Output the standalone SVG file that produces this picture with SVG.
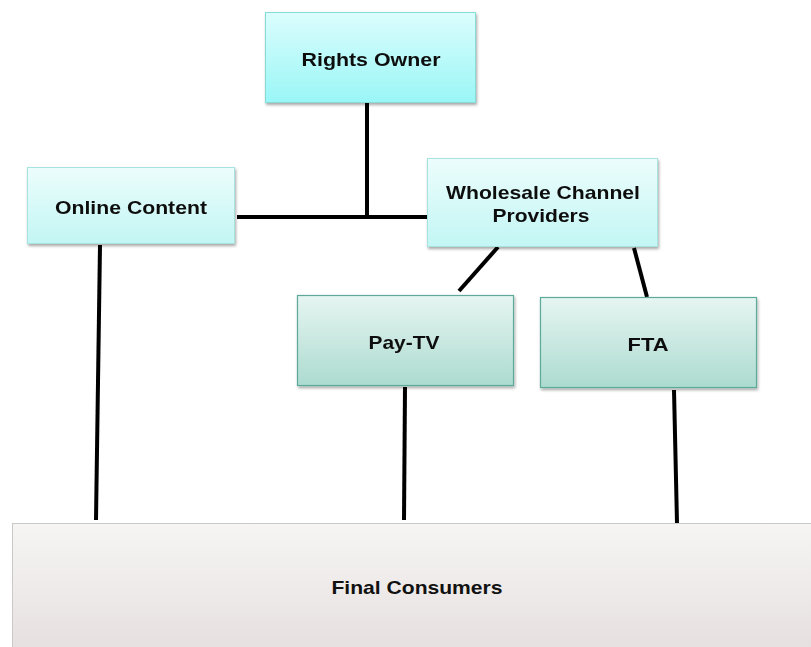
<svg xmlns="http://www.w3.org/2000/svg" width="811" height="647" viewBox="0 0 811 647">
  <defs>
    <linearGradient id="gCyan" x1="0" y1="0" x2="0" y2="1">
      <stop offset="0" stop-color="#dcfdfd"/>
      <stop offset="1" stop-color="#9af6f6"/>
    </linearGradient>
    <linearGradient id="gPale" x1="0" y1="0" x2="0" y2="1">
      <stop offset="0" stop-color="#ecfdfc"/>
      <stop offset="1" stop-color="#c2f6f4"/>
    </linearGradient>
    <linearGradient id="gTeal" x1="0" y1="0" x2="0" y2="1">
      <stop offset="0" stop-color="#e6f5f2"/>
      <stop offset="1" stop-color="#acdbcf"/>
    </linearGradient>
    <linearGradient id="gGrey" x1="0" y1="0" x2="0" y2="1">
      <stop offset="0" stop-color="#f6f5f4"/>
      <stop offset="1" stop-color="#e4dedd"/>
    </linearGradient>
    <filter id="shadow" x="-5%" y="-5%" width="112%" height="115%">
      <feGaussianBlur in="SourceAlpha" stdDeviation="1.5"/>
      <feOffset dx="1" dy="2" result="b"/>
      <feComponentTransfer><feFuncA type="linear" slope="0.35"/></feComponentTransfer>
      <feMerge><feMergeNode/><feMergeNode in="SourceGraphic"/></feMerge>
    </filter>
  </defs>
  <style>
    .label { font-family: "Liberation Sans", Arial, sans-serif; font-weight: bold; font-size: 18.5px; fill: #111111; }
    .cyan { fill: url(#gCyan); stroke: #86dcd6; stroke-width: 1; }
    .pale { fill: url(#gPale); stroke: #a8e4df; stroke-width: 1; }
    .teal { fill: url(#gTeal); stroke: #5da99a; stroke-width: 1.2; }
    .grey { fill: url(#gGrey); stroke: #cbc8c6; stroke-width: 1; }
    .link { stroke: #000; stroke-width: 4; fill: none; }
  </style>

  <rect width="811" height="647" fill="#ffffff"/>

  <!-- connectors -->
  <g id="connectors">
    <line class="link" x1="367" y1="103" x2="367" y2="217"/>
    <line class="link" x1="237" y1="217" x2="427" y2="217"/>
    <line class="link" x1="498" y1="247" x2="459" y2="291"/>
    <line class="link" x1="634" y1="248" x2="647" y2="297"/>
    <line class="link" x1="100" y1="245" x2="96" y2="520"/>
    <line class="link" x1="405" y1="387" x2="404" y2="520"/>
    <line class="link" x1="674" y1="390" x2="677" y2="523"/>
  </g>

  <g id="rights-owner" filter="url(#shadow)">
    <rect class="cyan" x="265.5" y="12.5" width="210" height="90"/>
    <text class="label" x="371" y="65.5" text-anchor="middle" textLength="139" lengthAdjust="spacingAndGlyphs">Rights Owner</text>
  </g>

  <g id="online-content" filter="url(#shadow)">
    <rect class="pale" x="27.5" y="167.5" width="207" height="76"/>
    <text class="label" x="131" y="213.5" text-anchor="middle" textLength="152" lengthAdjust="spacingAndGlyphs">Online Content</text>
  </g>

  <g id="wholesale" filter="url(#shadow)">
    <rect class="pale" x="427.5" y="158.5" width="230" height="88"/>
    <text class="label" x="543" y="198.5" text-anchor="middle" textLength="194" lengthAdjust="spacingAndGlyphs">Wholesale Channel</text>
    <text class="label" x="541" y="221.5" text-anchor="middle" textLength="97" lengthAdjust="spacingAndGlyphs">Providers</text>
  </g>

  <g id="pay-tv" filter="url(#shadow)">
    <rect class="teal" x="297.5" y="295.5" width="216" height="90"/>
    <text class="label" x="404" y="348.5" text-anchor="middle" textLength="71" lengthAdjust="spacingAndGlyphs">Pay-TV</text>
  </g>

  <g id="fta" filter="url(#shadow)">
    <rect class="teal" x="540.5" y="297.5" width="216" height="90"/>
    <text class="label" x="648" y="350.5" text-anchor="middle" textLength="41" lengthAdjust="spacingAndGlyphs">FTA</text>
  </g>

  <g id="final-consumers">
    <rect class="grey" x="12.5" y="523.5" width="810" height="140"/>
    <text class="label" x="417" y="593.5" text-anchor="middle" textLength="171" lengthAdjust="spacingAndGlyphs">Final Consumers</text>
  </g>
</svg>
